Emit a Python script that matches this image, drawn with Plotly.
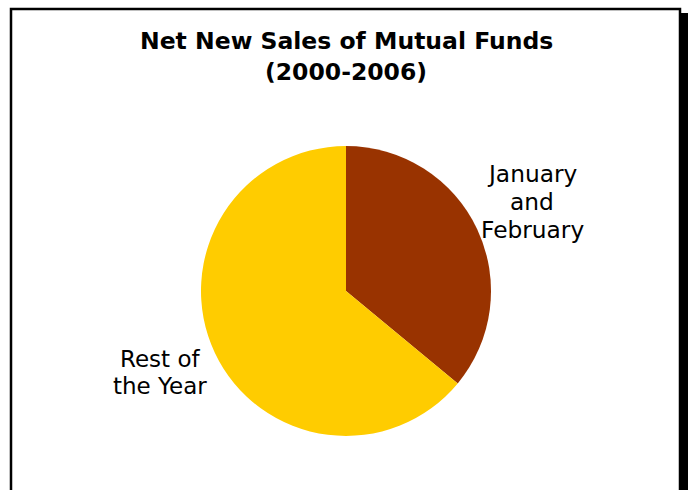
import plotly.graph_objects as go

# Net new sales share, 2000-2006
categories = ["January<br>and<br>February", "Rest of<br>the Year"]
shares = [36, 64]
slice_colors = ["#993300", "#FFCC00"]
title_lines = ["Net New Sales of Mutual Funds", "(2000-2006)"]

W, H = 688, 490
FONT = "DejaVu Sans, Verdana, sans-serif"


def px(x):
    return x / W


def py(y):
    return 1 - y / H


cx, cy, r = 346, 291, 145

fig = go.Figure(
    go.Pie(
        labels=categories,
        values=shares,
        sort=False,
        direction="clockwise",
        rotation=0,
        marker=dict(colors=slice_colors, line=dict(width=0)),
        textinfo="none",
        hoverinfo="label+percent",
        showlegend=False,
        domain=dict(x=[px(cx - r), px(cx + r)], y=[py(cy + r), py(cy - r)]),
    )
)


def text_block(lines, x, y_first, spacing, size, bold=False):
    """One annotation per line so the line spacing can be set exactly."""
    out = []
    for i, line in enumerate(lines):
        out.append(dict(
            text=f"<b>{line}</b>" if bold else line,
            x=px(x), y=py(y_first + i * spacing), xref="paper", yref="paper",
            xanchor="center", yanchor="middle", showarrow=False,
            font=dict(family=FONT, size=size, color="black"),
        ))
    return out


annotations = (
    text_block(title_lines, 346, 41, 31, 23.5, bold=True)
    + text_block(categories[0].split("<br>"), 532, 173, 28, 23.3)
    + text_block(categories[1].split("<br>"), 160, 358.5, 27, 23)
)

shapes = [
    # drop shadow on the right edge of the frame
    dict(type="rect", xref="paper", yref="paper",
         x0=px(680), x1=px(688), y0=py(520), y1=py(13),
         fillcolor="black", line=dict(width=0)),
    # chart frame
    dict(type="rect", xref="paper", yref="paper",
         x0=px(11), x1=px(680), y0=py(520), y1=py(9),
         fillcolor="rgba(0,0,0,0)", line=dict(color="black", width=2.5)),
]

fig.update_layout(
    width=W, height=H,
    margin=dict(l=0, r=0, t=0, b=0),
    paper_bgcolor="white",
    plot_bgcolor="white",
    annotations=annotations,
    shapes=shapes,
)

fig.write_html("out.html")
